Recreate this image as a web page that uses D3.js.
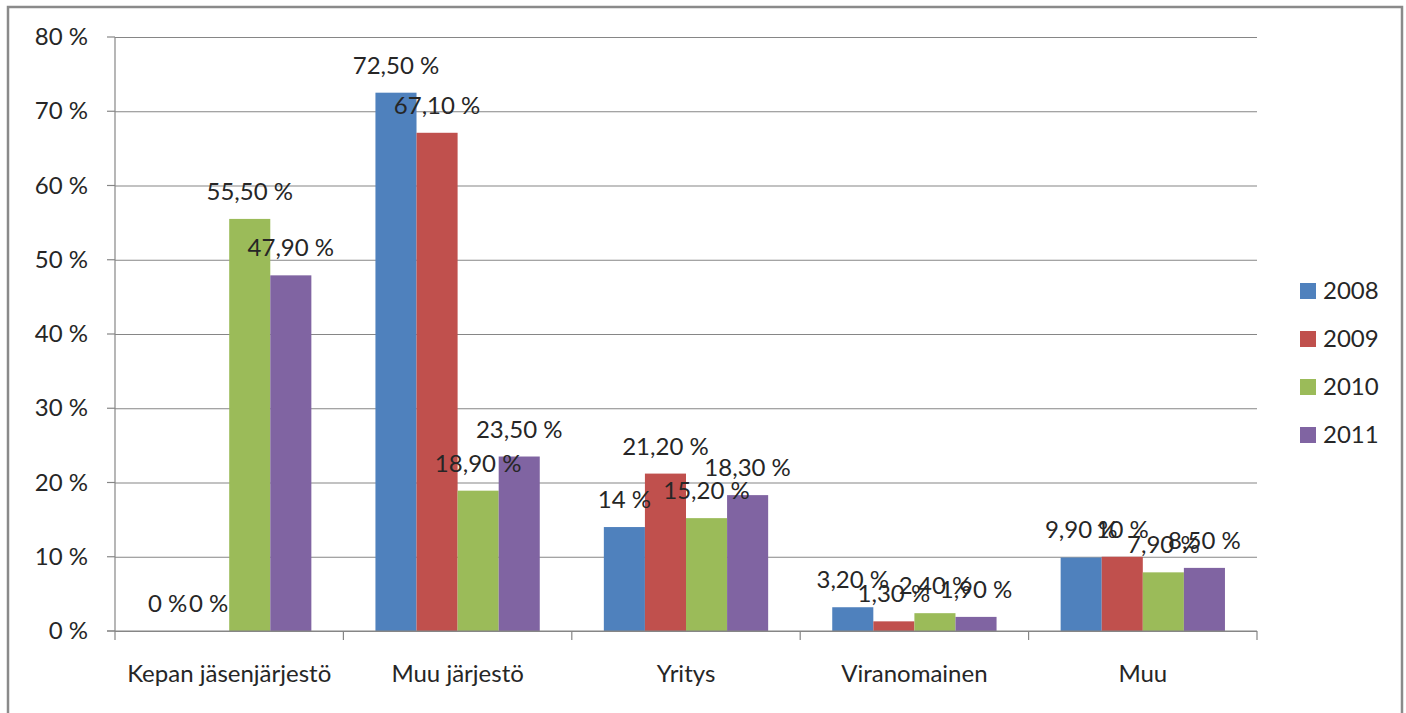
<!DOCTYPE html>
<html>
<head>
<meta charset="utf-8">
<script src="https://cdn.jsdelivr.net/npm/d3@7"></script>
<style>
  body { margin: 0; background: #fff; }
  svg { display: block; font-family: Lato, "Open Sans", sans-serif; }
</style>
</head>
<body>
<svg id="chart"></svg>
<script>
// Chart data
const categories = ["Kepan jäsenjärjestö", "Muu järjestö", "Yritys", "Viranomainen", "Muu"];
const years = ["2008", "2009", "2010", "2011"];
const values2008 = [0, 72.5, 14, 3.2, 9.9];
const values2009 = [0, 67.1, 21.2, 1.3, 10];
const values2010 = [55.5, 18.9, 15.2, 2.4, 7.9];
const values2011 = [47.9, 23.5, 18.3, 1.9, 8.5];
const labels2008 = ["0 %", "72,50 %", "14 %", "3,20 %", "9,90 %"];
const labels2009 = ["0 %", "67,10 %", "21,20 %", "1,30 %", "10 %"];
const labels2010 = ["55,50 %", "18,90 %", "15,20 %", "2,40 %", "7,90 %"];
const labels2011 = ["47,90 %", "23,50 %", "18,30 %", "1,90 %", "8,50 %"];
const yTicks = [0, 10, 20, 30, 40, 50, 60, 70, 80];
const yTickLabels = ["0 %", "10 %", "20 %", "30 %", "40 %", "50 %", "60 %", "70 %", "80 %"];
const colors = ["#4F81BD", "#C0504D", "#9BBB59", "#8064A2"];

const seriesValues = [values2008, values2009, values2010, values2011];
const seriesLabels = [labels2008, labels2009, labels2010, labels2011];

const width = 1406;
const height = 713;
const fontSize = "24px";
const textColor = "#262626";
const axisColor = "#868686";

const svg = d3.select("#chart")
    .attr("width", width)
    .attr("height", height);

// outer frame (bottom edge falls outside the picture)
svg.append("rect")
    .attr("x", 8).attr("y", 7)
    .attr("width", 1394).attr("height", 720)
    .attr("fill", "#fff")
    .attr("stroke", "#8a8a8a")
    .attr("stroke-width", 2.5);

const plot = { left: 115, right: 1257, top: 37, bottom: 631 };

const x0 = d3.scaleBand()
    .domain(categories)
    .range([plot.left, plot.right])
    .paddingInner(0)
    .paddingOuter(0);

const x1 = d3.scaleBand()
    .domain(years)
    .range([0, x0.bandwidth()])
    .paddingInner(0)
    .paddingOuter(0.78);

const y = d3.scaleLinear()
    .domain([0, 80])
    .range([plot.bottom, plot.top]);

// gridlines + y tick labels
const yAxis = d3.axisLeft(y)
    .tickValues(yTicks)
    .tickSize(-(plot.right - plot.left))
    .tickPadding(27)
    .tickFormat((d, i) => yTickLabels[i]);

const yg = svg.append("g")
    .attr("transform", `translate(${plot.left},0)`)
    .call(yAxis);
yg.select(".domain").remove();
yg.selectAll(".tick line").attr("stroke", axisColor).attr("stroke-width", 1.2);
yg.selectAll(".tick text")
    .attr("fill", textColor)
    .style("font-size", fontSize)
    .style("font-family", "Lato, sans-serif");

// small tick stubs left of the y axis
svg.append("g").selectAll("line")
    .data(yTicks)
    .join("line")
    .attr("x1", plot.left - 8).attr("x2", plot.left)
    .attr("y1", d => y(d)).attr("y2", d => y(d))
    .attr("stroke", axisColor).attr("stroke-width", 1.2);

// y axis line
svg.append("line")
    .attr("x1", plot.left).attr("x2", plot.left)
    .attr("y1", plot.top).attr("y2", plot.bottom)
    .attr("stroke", axisColor).attr("stroke-width", 1.2);

// bars
const groups = svg.append("g").selectAll("g")
    .data(categories)
    .join("g")
    .attr("transform", d => `translate(${x0(d)},0)`);

groups.each(function(cat, ci) {
    const g = d3.select(this);
    years.forEach((yr, si) => {
        const v = seriesValues[si][ci];
        g.append("rect")
            .attr("x", x1(yr))
            .attr("y", y(v))
            .attr("width", x1.bandwidth())
            .attr("height", y(0) - y(v))
            .attr("fill", colors[si]);
    });
});

// x axis line + boundary ticks
svg.append("line")
    .attr("x1", plot.left - 8).attr("x2", plot.right)
    .attr("y1", plot.bottom).attr("y2", plot.bottom)
    .attr("stroke", axisColor).attr("stroke-width", 1.2);

const boundaries = categories.map(c => x0(c)).concat([plot.right]);
svg.append("g").selectAll("line")
    .data(boundaries)
    .join("line")
    .attr("x1", d => d).attr("x2", d => d)
    .attr("y1", plot.bottom).attr("y2", plot.bottom + 9)
    .attr("stroke", axisColor).attr("stroke-width", 1.2);

// category labels
svg.append("g").selectAll("text")
    .data(categories)
    .join("text")
    .attr("x", d => x0(d) + x0.bandwidth() / 2)
    .attr("y", 682)
    .attr("text-anchor", "middle")
    .attr("fill", textColor)
    .style("font-size", fontSize)
    .text(d => d);

// data labels (outside end, overlapping where the original overlaps)
groups.each(function(cat, ci) {
    const g = d3.select(this);
    years.forEach((yr, si) => {
        const v = seriesValues[si][ci];
        g.append("text")
            .attr("x", x1(yr) + x1.bandwidth() / 2)
            .attr("y", y(v) - 19)
            .attr("text-anchor", "middle")
            .attr("fill", textColor)
            .style("font-size", fontSize)
            .text(seriesLabels[si][ci]);
    });
});

// legend
const legend = svg.append("g")
    .attr("transform", "translate(1300,283)");
const items = legend.selectAll("g")
    .data(years)
    .join("g")
    .attr("transform", (d, i) => `translate(0,${i * 48})`);
items.append("rect")
    .attr("width", 16).attr("height", 16)
    .attr("fill", (d, i) => colors[i]);
items.append("text")
    .attr("x", 23).attr("y", 16)
    .attr("fill", textColor)
    .style("font-size", fontSize)
    .text(d => d);
</script>
</body>
</html>
